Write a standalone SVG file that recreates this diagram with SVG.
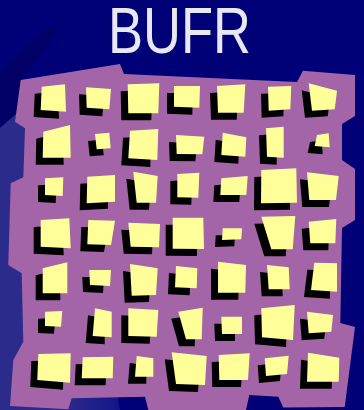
<svg xmlns="http://www.w3.org/2000/svg" width="364" height="410" viewBox="0 0 364 410">
<style>
.y{fill:#FFFF99}
.s{fill:#000}
.t{font-family:"Liberation Sans",Arial,sans-serif;font-size:64px;fill:#E8E8F2}
</style>
<defs>
<linearGradient id="lb" x1="0" y1="0" x2="120" y2="0" gradientUnits="userSpaceOnUse">
<stop offset="0" stop-color="#2B2B8B"/>
<stop offset="0.55" stop-color="#2B2B8B"/>
<stop offset="1" stop-color="#14148A"/>
</linearGradient>
</defs>
<g id="background">
<rect width="364" height="410" fill="#000077"/>
<polygon points="0,74 50,25 58,30 22,80 15,122 0,128" fill="#000066"/>
<polygon points="0,128 16,114 60,100 120,410 0,410" fill="url(#lb)"/>
</g>
<g id="title"><text class="t" x="108" y="53" textLength="143" lengthAdjust="spacingAndGlyphs">BUFR</text></g>
<g id="board">
<polygon fill="#A365A8" points="20.7,80 120,64 124,74 297,82 303,70.7 355,75 355,116 342,124 342,160 355,169 355,220 342,228 340.3,323 355,327 344.7,407 283.3,407.5 278.3,396.7 249.3,395 246,410 148.3,410 145,396.7 71.7,398.3 68.3,409.3 10,406 13.3,360 23.3,341.7 21.7,273.3 8.3,265 10.7,183.3 23.3,177.3 25,128.3 15,121.7"/>
</g>
<g id="squares">
<g id="r1c1"><polygon class="s" transform="translate(-7,7)" points="41.7,86.7 65,84.3 66,111.7 40.7,110"/><polygon class="y" points="41.7,86.7 65,84.3 66,111.7 40.7,110"/></g>
<g id="r1c2"><polygon class="s" transform="translate(-7,7)" points="86,87.3 111,89 109.3,109.3 86.7,107.7"/><polygon class="y" points="86,87.3 111,89 109.3,109.3 86.7,107.7"/></g>
<g id="r1c3"><polygon class="s" transform="translate(-7,7)" points="127.7,84.3 159.3,83.3 158.3,113.3 128.3,113.3"/><polygon class="y" points="127.7,84.3 159.3,83.3 158.3,113.3 128.3,113.3"/></g>
<g id="r1c4"><polygon class="s" transform="translate(-7,7)" points="174,86 200,86 199.3,107.7 174,106.7"/><polygon class="y" points="174,86 200,86 199.3,107.7 174,106.7"/></g>
<g id="r1c5"><polygon class="s" transform="translate(-7,7)" points="217,86 245.3,84.3 243.7,112.7 218,112.7"/><polygon class="y" points="217,86 245.3,84.3 243.7,112.7 218,112.7"/></g>
<g id="r1c6"><polygon class="s" transform="translate(-7,7)" points="268,86.7 291.3,86 290.3,109.3 268.7,110.7"/><polygon class="y" points="268,86.7 291.3,86 290.3,109.3 268.7,110.7"/></g>
<g id="r1c7"><polygon class="s" transform="translate(-7,7)" points="308.7,83.3 337,90.7 334.7,109.3 312,110.7"/><polygon class="y" points="308.7,83.3 337,90.7 334.7,109.3 312,110.7"/></g>

<g id="r2c1"><polygon class="s" transform="translate(-7,7)" points="43.3,131.7 70,125 70.7,157.7 42.7,157.7"/><polygon class="y" points="43.3,131.7 70,125 70.7,157.7 42.7,157.7"/></g>
<g id="r2c2"><polygon class="s" transform="translate(-7,7)" points="95,134 109.3,132.7 110.7,148.3 96.7,149.3"/><polygon class="y" points="95,134 109.3,132.7 110.7,148.3 96.7,149.3"/></g>
<g id="r2c3"><polygon class="s" transform="translate(-7,7)" points="130,130.7 158.3,129 157.3,160 128.3,158.3"/><polygon class="y" points="130,130.7 158.3,129 157.3,160 128.3,158.3"/></g>
<g id="r2c4"><polygon class="s" transform="translate(-7,7)" points="176,135 204.3,136.7 202.3,154.3 176.7,154"/><polygon class="y" points="176,135 204.3,136.7 202.3,154.3 176.7,154"/></g>
<g id="r2c5"><polygon class="s" transform="translate(-7,7)" points="222.7,132.7 246.3,137.3 245.3,156.7 221.3,155"/><polygon class="y" points="222.7,132.7 246.3,137.3 245.3,156.7 221.3,155"/></g>
<g id="r2c6"><polygon class="s" transform="translate(-7,7)" points="266,128.3 283.7,126.7 283.7,157.7 267,156.7"/><polygon class="y" points="266,128.3 283.7,126.7 283.7,157.7 267,156.7"/></g>
<g id="r2c7"><polygon class="s" transform="translate(-7,7)" points="317,135 328.7,133.3 329.7,147.3 314.7,146"/><polygon class="y" points="317,135 328.7,133.3 329.7,147.3 314.7,146"/></g>

<g id="r3c1"><polygon class="s" transform="translate(-7,7)" points="45,178.3 63.3,177.3 62.7,196 45,195"/><polygon class="y" points="45,178.3 63.3,177.3 62.7,196 45,195"/></g>
<g id="r3c2"><polygon class="s" transform="translate(-7,7)" points="87.3,176.7 115,175 115,201.7 86.7,203.3"/><polygon class="y" points="87.3,176.7 115,175 115,201.7 86.7,203.3"/></g>
<g id="r3c3"><polygon class="s" transform="translate(-7,7)" points="133.3,171.7 157.7,176 156,202.7 136.7,202.7"/><polygon class="y" points="133.3,171.7 157.7,176 156,202.7 136.7,202.7"/></g>
<g id="r3c4"><polygon class="s" transform="translate(-7,7)" points="177.3,174 199.3,172.7 198.3,197.7 177.3,197.3"/><polygon class="y" points="177.3,174 199.3,172.7 198.3,197.7 177.3,197.3"/></g>
<g id="r3c5"><polygon class="s" transform="translate(-7,7)" points="221.3,178.3 247.7,176 246.3,195 220.3,195"/><polygon class="y" points="221.3,178.3 247.7,176 246.3,195 220.3,195"/></g>
<g id="r3c6"><polygon class="s" transform="translate(-7,7)" points="261.3,170 296.3,168.3 297,202.7 261,203.3"/><polygon class="y" points="261.3,170 296.3,168.3 297,202.7 261,203.3"/></g>
<g id="r3c7"><polygon class="s" transform="translate(-7,7)" points="307,172.3 338.7,176 336,200 309.3,200"/><polygon class="y" points="307,172.3 338.7,176 336,200 309.3,200"/></g>

<g id="r4c1"><polygon class="s" transform="translate(-7,7)" points="40.7,220 69.3,218.3 70.7,248.3 40.7,246.7"/><polygon class="y" points="40.7,220 69.3,218.3 70.7,248.3 40.7,246.7"/></g>
<g id="r4c2"><polygon class="s" transform="translate(-7,7)" points="88.3,220 115,220.7 111,245 87.3,244.3"/><polygon class="y" points="88.3,220 115,220.7 111,245 87.3,244.3"/></g>
<g id="r4c3"><polygon class="s" transform="translate(-7,7)" points="128.3,222.7 160,224 159,247.3 130.7,246.7"/><polygon class="y" points="128.3,222.7 160,224 159,247.3 130.7,246.7"/></g>
<g id="r4c4"><polygon class="s" transform="translate(-7,7)" points="172.7,217.7 203.3,217.7 204,249 172.7,248.7"/><polygon class="y" points="172.7,217.7 203.3,217.7 204,249 172.7,248.7"/></g>
<g id="r4c5"><polygon class="s" transform="translate(-7,7)" points="222.7,228.3 242,228.3 241.3,239.3 222,240"/><polygon class="y" points="222.7,228.3 242,228.3 241.3,239.3 222,240"/></g>
<g id="r4c6"><polygon class="s" transform="translate(-7,7)" points="261.3,216.7 295.3,216 292.7,249.3 271.3,249.3"/><polygon class="y" points="261.3,216.7 295.3,216 292.7,249.3 271.3,249.3"/></g>
<g id="r4c7"><polygon class="s" transform="translate(-7,7)" points="308.7,221.7 336.3,219 335.3,243.3 310.3,243.3"/><polygon class="y" points="308.7,221.7 336.3,219 335.3,243.3 310.3,243.3"/></g>

<g id="r5c1"><polygon class="s" transform="translate(-7,7)" points="42.7,268.3 67.3,262.3 67.3,293.3 42.7,293.3"/><polygon class="y" points="42.7,268.3 67.3,262.3 67.3,293.3 42.7,293.3"/></g>
<g id="r5c2"><polygon class="s" transform="translate(-7,7)" points="89.3,270 111,270 110,286 90,285"/><polygon class="y" points="89.3,270 111,270 110,286 90,285"/></g>
<g id="r5c3"><polygon class="s" transform="translate(-7,7)" points="130,264 157.7,268.3 156,295 131.7,295.7"/><polygon class="y" points="130,264 157.7,268.3 156,295 131.7,295.7"/></g>
<g id="r5c4"><polygon class="s" transform="translate(-7,7)" points="176,266 197.3,268.3 196.7,288.3 175,287.3"/><polygon class="y" points="176,266 197.3,268.3 196.7,288.3 175,287.3"/></g>
<g id="r5c5"><polygon class="s" transform="translate(-7,7)" points="218,261.7 246,265 245.3,292.7 218,292.7"/><polygon class="y" points="218,261.7 246,265 245.3,292.7 218,292.7"/></g>
<g id="r5c6"><polygon class="s" transform="translate(-7,7)" points="267,265 288.7,267.3 289.7,289.3 268.7,289.3"/><polygon class="y" points="267,265 288.7,267.3 289.7,289.3 268.7,289.3"/></g>
<g id="r5c7"><polygon class="s" transform="translate(-7,7)" points="314.3,262.7 337,263.3 337,291.7 311,290"/><polygon class="y" points="314.3,262.7 337,263.3 337,291.7 311,290"/></g>

<g id="r6c1"><polygon class="s" transform="translate(-7,7)" points="45,311.7 62.3,311 61,326.7 45,326"/><polygon class="y" points="45,311.7 62.3,311 61,326.7 45,326"/></g>
<g id="r6c2"><polygon class="s" transform="translate(-7,7)" points="95,308.3 111.7,311.7 111.7,337.3 92.7,336"/><polygon class="y" points="95,308.3 111.7,311.7 111.7,337.3 92.7,336"/></g>
<g id="r6c3"><polygon class="s" transform="translate(-7,7)" points="128.3,308.3 158.3,310 156.7,336.7 128.3,336"/><polygon class="y" points="128.3,308.3 158.3,310 156.7,336.7 128.3,336"/></g>
<g id="r6c4"><polygon class="s" transform="translate(-7,7)" points="178.3,311.7 202.7,307.7 201.7,339.3 186,339.3"/><polygon class="y" points="178.3,311.7 202.7,307.7 201.7,339.3 186,339.3"/></g>
<g id="r6c5"><polygon class="s" transform="translate(-7,7)" points="221.3,316.7 242,316.7 242,334 222,334"/><polygon class="y" points="221.3,316.7 242,316.7 242,334 222,334"/></g>
<g id="r6c6"><polygon class="s" transform="translate(-7,7)" points="261.3,308.3 294.7,305 293,340 262,337.3"/><polygon class="y" points="261.3,308.3 294.7,305 293,340 262,337.3"/></g>
<g id="r6c7"><polygon class="s" transform="translate(-7,7)" points="307,311.7 333,315 331.3,331.7 308.7,333.3"/><polygon class="y" points="307,311.7 333,315 331.3,331.7 308.7,333.3"/></g>

<g id="r7c1"><polygon class="s" transform="translate(-7,7)" points="38.3,354 70.7,353.3 70,382.7 37.3,380"/><polygon class="y" points="38.3,354 70.7,353.3 70,382.7 37.3,380"/></g>
<g id="r7c2"><polygon class="s" transform="translate(-7,7)" points="82.7,357.3 113.3,356.7 112.7,378.3 81.7,378.3"/><polygon class="y" points="82.7,357.3 113.3,356.7 112.7,378.3 81.7,378.3"/></g>
<g id="r7c3"><polygon class="s" transform="translate(-7,7)" points="136.7,356 153.3,358.3 153.3,376.7 135,376.7"/><polygon class="y" points="136.7,356 153.3,358.3 153.3,376.7 135,376.7"/></g>
<g id="r7c4"><polygon class="s" transform="translate(-7,7)" points="171.7,352.3 206.7,356 205,385 176,384"/><polygon class="y" points="171.7,352.3 206.7,356 205,385 176,384"/></g>
<g id="r7c5"><polygon class="s" transform="translate(-7,7)" points="218.7,355 249.7,353.3 248,380 219.3,380"/><polygon class="y" points="218.7,355 249.7,353.3 248,380 219.3,380"/></g>
<g id="r7c6"><polygon class="s" transform="translate(-7,7)" points="264.7,358.3 288.7,355.7 287,374 266,376"/><polygon class="y" points="264.7,358.3 288.7,355.7 287,374 266,376"/></g>
<g id="r7c7"><polygon class="s" transform="translate(-7,7)" points="308,352.7 339.3,357.7 338.7,381.7 307,381.7"/><polygon class="y" points="308,352.7 339.3,357.7 338.7,381.7 307,381.7"/></g>
</g>
<g id="connectors"/>
</svg>
